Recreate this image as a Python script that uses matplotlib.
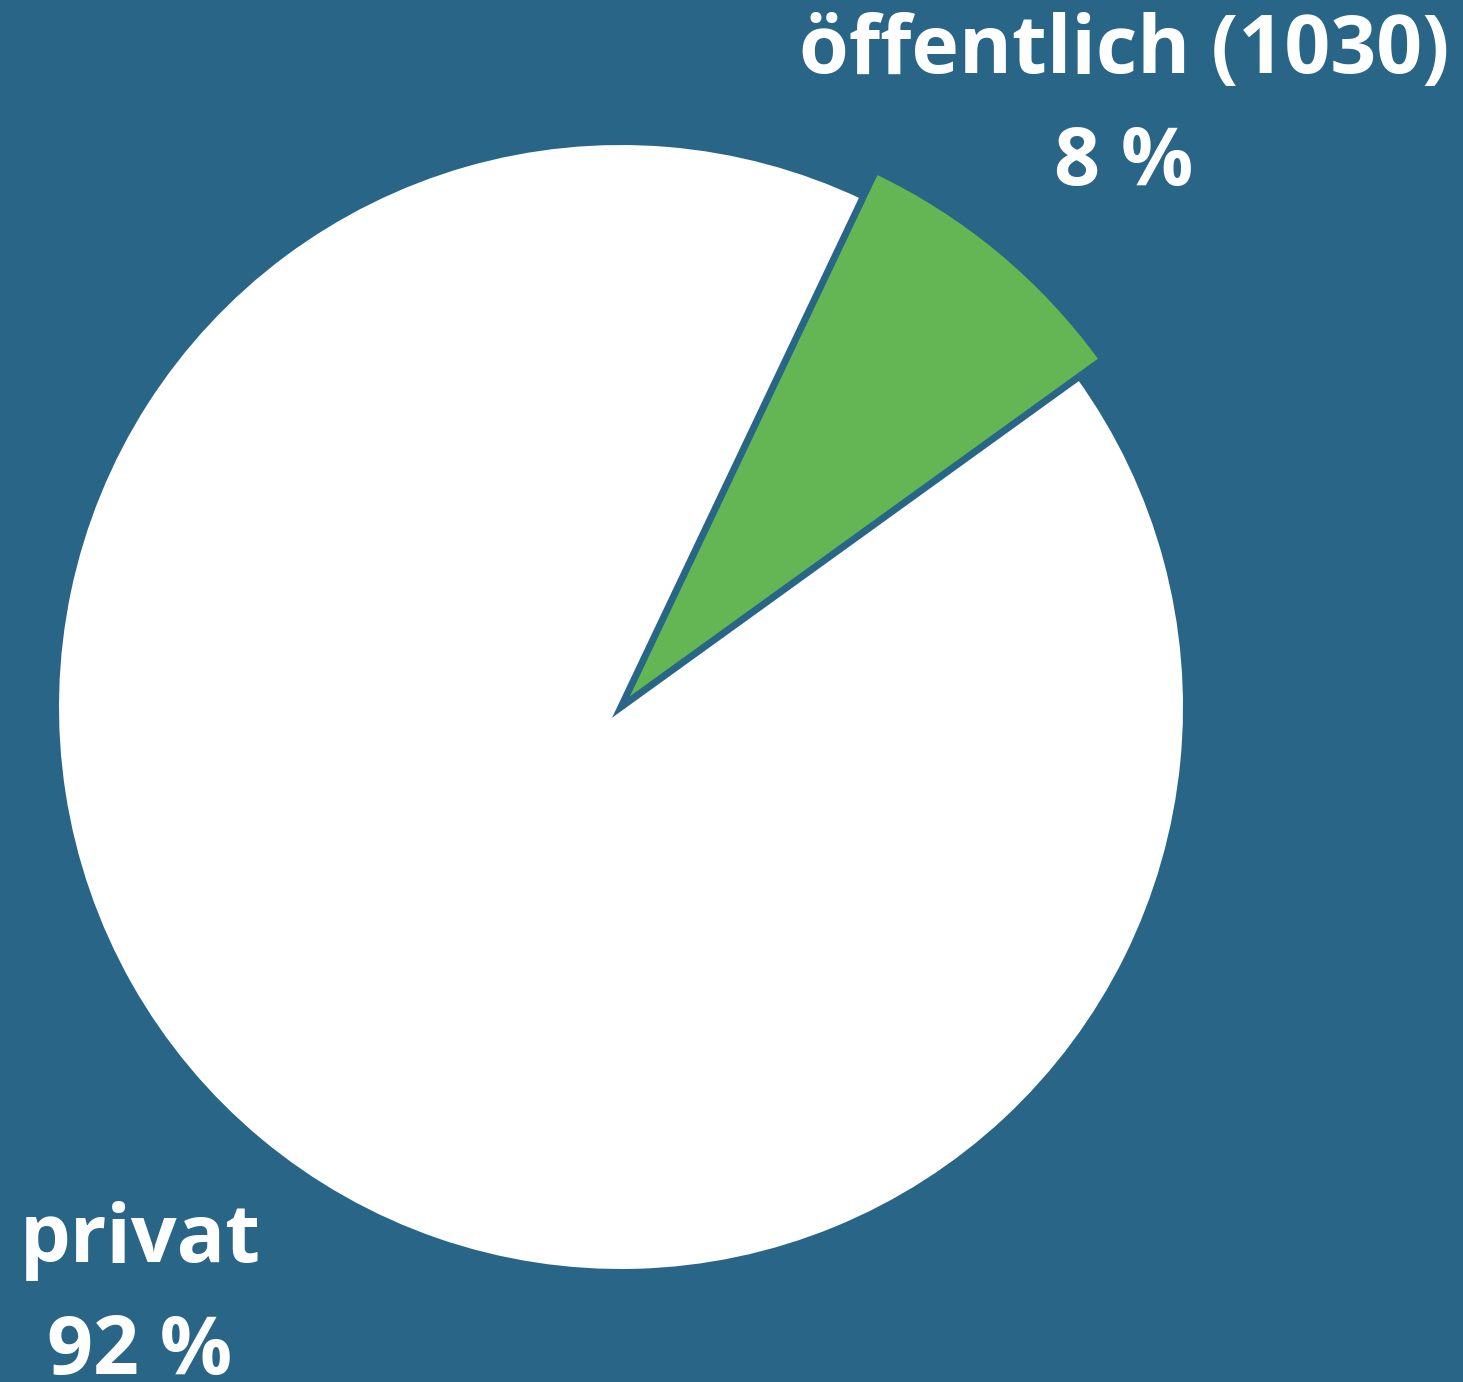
import matplotlib.pyplot as plt

# Daten
categories = ['öffentlich (1030)', 'privat']
percent = [8, 92]
colors = ['#64b553', '#ffffff']

bg = '#286587'

fig = plt.figure(figsize=(14.63, 13.82), dpi=100, facecolor=bg)
ax = fig.add_axes([0, 0, 1, 1])
ax.set_facecolor(bg)

# Kreis in Pixelkoordinaten (Mitte 620/674, Radius 562)
wedges, _ = ax.pie(percent, colors=colors, startangle=35.8, counterclock=True,
                   center=(621, 675), radius=562,
                   wedgeprops=dict(edgecolor='none'))
# öffentlicher Anteil etwas größer, mit Rand in Hintergrundfarbe
wedges[0].set_radius(594)
wedges[0].set_edgecolor(bg)
wedges[0].set_linewidth(5)
wedges[0].set_zorder(3)

ax.set_xlim(0, 1463)
ax.set_ylim(0, 1382)
ax.set_aspect('equal')
ax.axis('off')

font = dict(family=['Open Sans', 'DejaVu Sans'], weight='bold', color='white',
            fontsize=58, ha='center', va='center', linespacing=1.52)
ax.text(1124, 1382 - 108, f'{categories[0]}\n{percent[0]} %', **font)
ax.text(140, 1382 - 1297, f'{categories[1]}\n{percent[1]} %', **font)

fig.savefig('out.png', dpi=100, facecolor=bg)
